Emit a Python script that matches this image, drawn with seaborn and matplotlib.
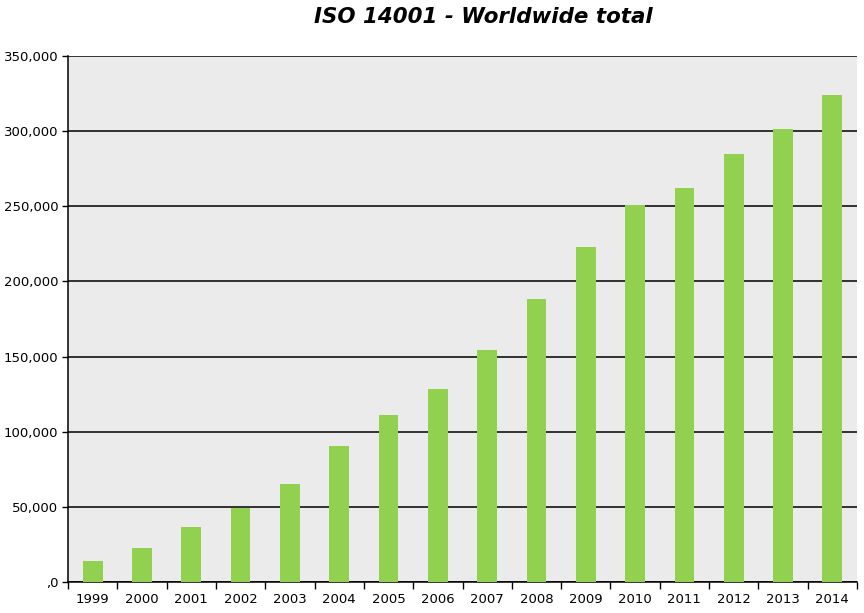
import matplotlib
matplotlib.use("Agg")
import matplotlib.pyplot as plt
import seaborn as sns
import pandas as pd
import numpy as np
from matplotlib.ticker import FixedLocator

years = ["1999", "2000", "2001", "2002", "2003", "2004", "2005", "2006",
         "2007", "2008", "2009", "2010", "2011", "2012", "2013", "2014"]
certificates = [14106, 22897, 36464, 49440, 64996, 90554, 111162, 128211,
                154572, 188574, 223149, 250972, 261957, 284654, 301647, 324148]
y_ticks = [0, 50000, 100000, 150000, 200000, 250000, 300000, 350000]
y_tick_labels = [",0", "50,000", "100,000", "150,000", "200,000", "250,000", "300,000", "350,000"]
title = "ISO 14001 - Worldwide total"

sns.set_style("white")
plt.rcParams['font.family'] = ['DejaVu Sans']
plt.rcParams['text.color'] = 'black'
plt.rcParams['xtick.color'] = 'black'
plt.rcParams['ytick.color'] = 'black'

df = pd.DataFrame({"year": years, "value": certificates})

fig = plt.figure(figsize=(8.64, 6.13), dpi=100)
ax = fig.add_axes([68/864, 1-582/613, (857-68)/864, (582-56)/613])
ax.set_facecolor("#EBEBEB")

sns.barplot(data=df, x="year", y="value", color="#92D050", width=0.4,
            saturation=1, linewidth=0, edgecolor="none", ax=ax, zorder=3)

ax.set_ylim(0, 350000)
ax.set_xlim(-0.5, len(years) - 0.5)
ax.yaxis.set_major_locator(FixedLocator(y_ticks))
ax.set_yticklabels(y_tick_labels)
ax.yaxis.grid(True, color="black", linewidth=1.1, zorder=1)
ax.set_axisbelow(True)
ax.xaxis.grid(False)

ax.set_xticks(np.arange(len(years)))
ax.set_xticklabels(years)
ax.set_xticks(np.arange(len(years) + 1) - 0.5, minor=True)
ax.tick_params(axis="x", which="major", length=0, pad=8, labelsize=9.5, colors="black")
ax.tick_params(axis="x", which="minor", length=5, width=1, direction="out", color="black", bottom=True)
ax.tick_params(axis="y", which="major", length=4, width=1, direction="out", color="black",
               labelsize=9.5, left=True, pad=3, labelcolor="black")

for s in ["top", "right"]:
    ax.spines[s].set_visible(False)
for s in ["left", "bottom"]:
    ax.spines[s].set_color("black")
    ax.spines[s].set_linewidth(1.1)

ax.set_xlabel("")
ax.set_ylabel("")

fig.text(483/864, 1-17/613, title, ha="center", va="center",
         fontsize=15.4, fontweight="bold", fontstyle="italic", color="black")

fig.savefig("out.png", dpi=100, facecolor="white")
